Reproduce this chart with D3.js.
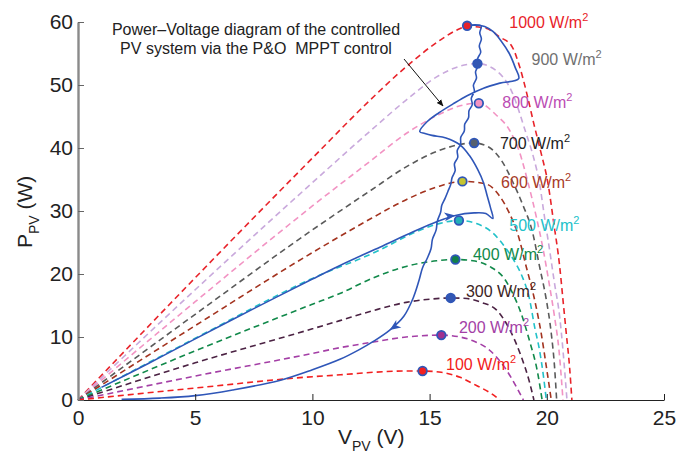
<!DOCTYPE html>
<html>
<head>
<meta charset="utf-8">
<script src="https://cdn.jsdelivr.net/npm/d3@7/dist/d3.min.js"></script>
<style>
  body { margin: 0; background: #fff; }
  text { font-family: Arial, "Liberation Sans", sans-serif; }
</style>
</head>
<body>
<svg id="chart" width="678" height="458"></svg>
<script>
// irradiance levels (W/m2) and their P-V curves
const levels = [1000, 900, 800, 700, 600, 500, 400, 300, 200, 100];

const pv1000 = [[0,0],[5,19.4],[10,38.4],[12.6,48.1],[14,52.9],[15.4,57.0],[16.1,58.6],[16.6,59.3],[17.4,59.0],[18.0,57.6],[18.5,56.2],[18.85,52.8],[19.15,48.6],[19.45,43.8],[19.75,39.3],[20.05,34.4],[20.3,28.0],[20.55,21.2],[20.69,15.9],[20.83,10.6],[20.97,5.3],[21.07,0]];
const pv900  = [[0,0],[5,17.5],[10,34.5],[12.5,42.8],[14,47.6],[15.4,51.5],[16.3,53.0],[17.04,53.4],[17.8,52.4],[18.5,49.0],[19.1,42.5],[19.45,38.3],[19.69,34.4],[19.9,29.1],[20.12,23.8],[20.33,18.5],[20.55,13.2],[20.69,7.9],[20.86,0]];
const pv800  = [[0,0],[5,15.6],[10,30.8],[12.5,38.0],[14,42.3],[15.4,45.3],[16.3,46.7],[17.1,47.1],[17.85,45.2],[18.4,42.9],[18.84,39.3],[19.2,34.5],[19.55,29.1],[19.85,23.8],[20.1,18.5],[20.33,13.2],[20.52,7.9],[20.69,0]];
const pv700  = [[0,0],[5,13.6],[10,27.0],[12.5,33.3],[14,37.0],[15.4,39.6],[16.9,40.8],[17.5,40.2],[18.05,38.1],[18.55,34.6],[18.95,31.2],[19.4,26.5],[19.69,21.2],[19.98,15.9],[20.19,10.6],[20.33,5.3],[20.42,0]];
const pv600  = [[0,0],[5,11.8],[10,23.4],[12.5,28.8],[14,31.8],[15.3,33.8],[16.4,34.7],[17.4,34.3],[18.0,32.3],[18.41,29.6],[18.75,26.5],[19.12,21.2],[19.48,15.9],[19.76,10.6],[19.98,5.3],[20.19,0]];
const pv500  = [[0,0],[5,9.8],[10,19.3],[12.87,23.8],[14.3,26.5],[15.4,28.0],[16.25,28.5],[17.0,28.0],[17.7,26.5],[18.27,24.0],[18.7,21.5],[18.95,19.6],[19.27,15.9],[19.48,11.6],[19.69,7.9],[19.85,4.0],[19.98,0]];
const pv400  = [[0,0],[5,7.8],[10,15.2],[11.17,16.9],[12.6,19.4],[14.0,21.2],[15.3,22.1],[16.1,22.3],[16.85,22.1],[17.56,21.2],[18.2,19.2],[18.6,16.5],[18.9,13.8],[19.27,9.3],[19.6,4.5],[19.8,0]];
const pv300  = [[0,0],[5,5.9],[10,11.3],[11.17,12.6],[12.6,14.2],[14.0,15.5],[15.0,16.0],[15.9,16.2],[16.6,16.1],[17.2,15.5],[17.85,14.3],[18.4,11.3],[18.91,6.9],[19.25,3.0],[19.45,0]];
const pv200  = [[0,0],[5,3.8],[10,7.4],[11.17,8.3],[12.6,9.2],[14.0,10.0],[15.5,10.3],[16.3,10.0],[16.85,9.4],[17.56,7.9],[18.27,4.8],[18.7,2.1],[19.0,0]];
const pv100  = [[0,0],[5,1.9],[10,3.7],[11.2,4.0],[12.6,4.4],[14.0,4.6],[14.7,4.6],[15.5,4.4],[16.3,3.6],[17.0,2.3],[17.6,1.1],[18.0,0]];
const curves = [pv1000, pv900, pv800, pv700, pv600, pv500, pv400, pv300, pv200, pv100];

// maximum power points
const mpp = [[16.6,59.4],[17.04,53.4],[17.1,47.1],[16.9,40.8],[16.4,34.7],[16.25,28.5],[16.1,22.3],[15.9,16.2],[15.5,10.3],[14.7,4.6]];

// trajectory of the controlled PV system (P&O MPPT)
const trackRise = [[1.0,2.0],[3,5.8],[5,9.7],[7.5,14.5],[10,19.2],[11.2,21.4],[12.9,24.3],[14.3,26.7],[15.3,28.3],[16.1,29.3],[16.9,29.7],[17.4,29.6],[17.7,28.8]];
const trackLoop = [
  [17.6,30.5],[17.45,32.5],[17.3,34.5],[17.05,36.6],[16.7,38.8],[16.3,40.5],[15.7,41.6],[15.1,42.0],[14.8,42.3],[14.58,42.6],
  [14.9,44.2],[15.4,45.6],[16.0,47.0],[16.6,48.3],[17.3,49.5],[18.0,50.3],[18.8,51.0],
  [18.65,52.8],[18.4,55.0],[18.05,57.0],[17.7,58.5],[17.35,59.3],[17.0,59.5],[16.65,59.5],[17.2,59.4]
];
const trackFall = [
  [17.14,58.3],[17.21,57.3],[17.12,56.2],[17.18,55.2],[17.05,54.2],[17.08,53.2],[16.96,52.1],[17.0,51.1],[16.87,50.0],[16.91,49.0],
  [16.78,47.9],[16.82,46.9],[16.68,45.9],[16.66,44.8],[16.5,43.8],[16.48,42.7],[16.33,41.7],[16.32,40.6],[16.18,39.6],[16.2,38.5],
  [16.06,37.5],[16.09,36.4],[15.96,35.3],[15.9,34.2],[15.78,33.1],[15.66,32.0],[15.52,30.9],[15.47,29.8],[15.33,28.4],[15.28,27.0],
  [15.12,25.5],[15.06,24.0],[14.9,22.5],[14.7,21.0],[14.55,19.0],[14.3,16.2],[13.9,13.3],[13.3,11.1],[12.6,9.3],[12.0,8.0],[11.2,6.5],
  [10,4.8],[8.6,3.1],[6.6,1.6],[5,0.7],[3.5,0.3],[1.86,0.1]
];

const xTicks = [0, 5, 10, 15, 20, 25];
const yTicks = [0, 10, 20, 30, 40, 50, 60];

// label anchors in data units (V, P)
const labelAt = [[18.4,59.0],[19.35,53.1],[18.1,46.3],[18.0,39.8],[18.05,33.6],[18.4,26.8],[16.85,22.3],[16.55,16.4],[16.25,10.6],[15.7,4.8]];

const curveColor = ["#e8232a","#c9a9dc","#f293c3","#5a5a5a","#a3331f","#22c1c9","#11894a","#4b2243","#a43fa6","#f22020"];
const labelColor = ["#e8232a","#707070","#bb4cb3","#222222","#a83a28","#22c1c9","#11894a","#3c2424","#a43fa6","#f22020"];
const dotFill    = ["#e8232a","#3357b3","#f293c3","#56606e","#c4c431","#22b0b8","#11804a","#3357b3","#a0308f","#f22020"];
const blue = "#2f56b8";

const svg = d3.select("#chart");
const x = d3.scaleLinear().domain([0, 25]).range([78, 664]);
const y = d3.scaleLinear().domain([0, 60]).range([400, 22]);

// dashed P-V curves
const pvLine = d3.line().x(d => x(d[0])).y(d => y(d[1])).curve(d3.curveMonotoneX);
svg.append("g").selectAll("path")
  .data(curves)
  .enter().append("path")
  .attr("d", pvLine)
  .attr("fill", "none")
  .attr("stroke", (d, i) => curveColor[i])
  .attr("stroke-width", 1.6)
  .attr("stroke-dasharray", "6,4");

// trajectory
const track = trackRise.concat(trackLoop, trackFall);
const trackLine = d3.line().x(d => x(d[0])).y(d => y(d[1])).curve(d3.curveCatmullRom.alpha(0.5));
svg.append("path")
  .attr("d", trackLine(track))
  .attr("fill", "none")
  .attr("stroke", blue)
  .attr("stroke-width", 1.6)
  .attr("stroke-linejoin", "round");

// arrowheads on the trajectory
function arrowHead(a, b) {
  const ang = Math.atan2(y(b[1]) - y(a[1]), x(b[0]) - x(a[0])) * 180 / Math.PI;
  svg.append("path")
    .attr("d", "M0,0 L-11,-4.5 L-8,0 L-11,4.5 Z")
    .attr("fill", blue)
    .attr("transform", `translate(${x(a[0])},${y(a[1])}) rotate(${ang})`);
}
arrowHead(trackRise[9], trackRise[10]);
const k = trackFall.findIndex(d => d[0] === 13.3);
arrowHead(trackFall[k], trackFall[k + 1]);

// MPP markers
svg.append("g").selectAll("circle")
  .data(mpp)
  .enter().append("circle")
  .attr("cx", d => x(d[0]))
  .attr("cy", d => y(d[1]))
  .attr("r", 4.3)
  .attr("fill", (d, i) => dotFill[i])
  .attr("stroke", blue)
  .attr("stroke-width", 1.8);

// irradiance labels
const lab = svg.append("g").selectAll("text")
  .data(levels)
  .enter().append("text")
  .attr("x", (d, i) => x(labelAt[i][0]))
  .attr("y", (d, i) => y(labelAt[i][1]))
  .attr("font-size", 16)
  .attr("fill", (d, i) => labelColor[i]);
lab.append("tspan").text(d => d + " W/m");
lab.append("tspan").attr("dy", -7).attr("font-size", 11).text("2");

// axes
const xAxis = d3.axisBottom(x).tickValues(xTicks).tickSize(-6).tickSizeOuter(0).tickPadding(10);
const gx = svg.append("g").attr("transform", "translate(0,400)").call(xAxis);
gx.select(".domain").attr("stroke", "#222").attr("stroke-width", 1.2);
gx.selectAll(".tick line").attr("stroke", "#222");
gx.selectAll("text").attr("font-size", 21).attr("fill", "#222").attr("font-family", "Arial, 'Liberation Sans', sans-serif");

const yAxis = d3.axisLeft(y).tickValues(yTicks).tickSize(-6).tickSizeOuter(0).tickPadding(10);
const gy = svg.append("g").attr("transform", "translate(78,0)").call(yAxis);
gy.select(".domain").attr("stroke", "#8a8a8a").attr("stroke-width", 2.4);
gy.selectAll(".tick line").attr("stroke", "#666");
gy.selectAll("text").attr("font-size", 21).attr("fill", "#222").attr("font-family", "Arial, 'Liberation Sans', sans-serif").attr("x", -5);

// axis titles
const xt = svg.append("text").attr("x", 338).attr("y", 444).attr("font-size", 21).attr("fill", "#222");
xt.append("tspan").text("V");
xt.append("tspan").attr("dy", 7).attr("font-size", 14).text("PV");
xt.append("tspan").attr("dy", -7).text(" (V)");

const yt = svg.append("text").attr("transform", "translate(32,248) rotate(-90)").attr("font-size", 21).attr("fill", "#222");
yt.append("tspan").text("P");
yt.append("tspan").attr("dy", 7).attr("font-size", 14).text("PV");
yt.append("tspan").attr("dy", -7).text(" (W)");

// annotation
const note = svg.append("text").attr("x", 256).attr("y", 35).attr("font-size", 16).attr("fill", "#222").attr("text-anchor", "middle");
note.append("tspan").attr("x", 256).text("Power\u2013Voltage diagram of the controlled");
note.append("tspan").attr("x", 256).attr("dy", 18.5).text("PV system via the P&O  MPPT control").style("white-space", "pre");

svg.append("defs").append("marker")
  .attr("id", "tip").attr("viewBox", "0 0 10 10").attr("refX", 9).attr("refY", 5)
  .attr("markerWidth", 7).attr("markerHeight", 7).attr("orient", "auto")
  .append("path").attr("d", "M0,1 L10,5 L0,9 Z").attr("fill", "#111");
svg.append("line")
  .attr("x1", 404).attr("y1", 59).attr("x2", 443).attr("y2", 106)
  .attr("stroke", "#111").attr("stroke-width", 1)
  .attr("marker-end", "url(#tip)");
</script>
</body>
</html>
